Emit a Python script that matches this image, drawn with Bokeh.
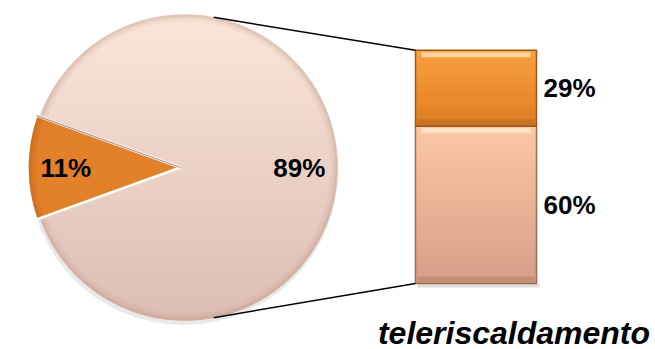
import math
import numpy as np
from bokeh.plotting import figure
from bokeh.models import ColumnDataSource
from bokeh.embed import file_html
from bokeh.resources import INLINE
from bokeh.core.properties import value

# ---- data ----
pie_labels = ["11%", "89%"]
pie_values = [11, 89]
bar_labels = ["60%", "29%"]
bar_values = [60, 29]
bar_category = "teleriscaldamento"

# ---- layout / style ----
W, H = 655, 349
cx, cy, r = 184, 182, 153          # pie centre & radius (screen units)
explode = 4                         # small slice pulled out
bar_left, bar_right = 415, 536
bar_bottom = 66
bar_scale = 2.62                    # units per percent
conn_angle = math.radians(79)       # where connector lines leave the pie

pie_grad = [("#FBE6DA", "#DCBDB1"), None]
orange_pie = "#E3802A"
bar_grad = [("#FDC8A4", "#D79E88"), ("#FAA241", "#DE7C22")]
bar_edges = ["#9C6A55", "#9A5818"]
FONT = "Liberation Sans"


def mix(c1, c2, t):
    a = [int(c1[i:i + 2], 16) for i in (1, 3, 5)]
    b = [int(c2[i:i + 2], 16) for i in (1, 3, 5)]
    return "#%02x%02x%02x" % tuple(round(a[k] + (b[k] - a[k]) * t) for k in range(3))


p = figure(width=W, height=H, x_range=(0, W), y_range=(0, H),
           output_backend="svg", toolbar_location=None, min_border=0)
p.axis.visible = False
p.grid.visible = False
p.outline_line_color = None
p.background_fill_color = "white"
p.border_fill_color = "white"

total = sum(pie_values)
small_span = 2 * math.pi * pie_values[0] / total
mid_small = math.pi
a0 = mid_small - small_span / 2
a1 = mid_small + small_span / 2
big_start = a1 - 2 * math.pi
big_end = a0

# faint shadow of the pie
p.wedge(x=cx - 1, y=cy - 3, radius=r + 1.5, start_angle=0, end_angle=2 * math.pi,
        fill_color="#D4D4D4", fill_alpha=0.5, line_color=None)

# big slice: base + vertical gradient bands (circle slices)
p.wedge(x=cx, y=cy, radius=r, start_angle=big_start, end_angle=big_end,
        fill_color=mix(*pie_grad[0], 0.5), line_color=None)
nb = 40
edges = np.linspace(cy + r, cy - r, nb + 1)
xs, ys, cols = [], [], []
for i in range(nb):
    yt, yb = edges[i], edges[i + 1]
    yy = np.linspace(yt, yb, 8)
    half = np.sqrt(np.clip(r ** 2 - (yy - cy) ** 2, 0, None))
    px = list(cx + half) + list(cx - half[::-1])
    py = list(yy) + list(yy[::-1])
    xs.append(px)
    ys.append(py)
    cols.append(mix(*pie_grad[0], (i + 0.5) / nb))
p.patches(xs=xs, ys=ys, fill_color=cols, line_color=cols, line_width=0.8)
# bevel rim
for w_, al in [(7, 0.10), (4, 0.14), (2, 0.2)]:
    p.annular_wedge(x=cx, y=cy, inner_radius=r - w_, outer_radius=r,
                    start_angle=big_start + 0.01, end_angle=big_end - 0.01,
                    fill_color="#B89484", fill_alpha=al, line_color=None)

# small (exploded) slice
sx = cx + explode * math.cos(mid_small)
sy = cy + explode * math.sin(mid_small)
p.wedge(x=sx, y=sy, radius=r, start_angle=a0, end_angle=a1,
        fill_color=orange_pie, line_color="white", line_width=2.5)
for w_, al in [(8, 0.15), (4, 0.25)]:
    p.annular_wedge(x=sx, y=sy, inner_radius=r - w_, outer_radius=r - 1,
                    start_angle=a0 + 0.01, end_angle=a1 - 0.01,
                    fill_color="#A85812", fill_alpha=al, line_color=None)
# thin gray edge on the upper side of the small slice
p.segment(x0=[sx], y0=[sy], x1=[sx + r * math.cos(a0)], y1=[sy + r * math.sin(a0)],
          line_color="#A89890", line_width=1.2)

# pie labels
lab_r = 0.75 * r
mids = [mid_small, 0.0]
centers = [(sx, sy), (cx, cy)]
p.text(x=[c[0] + lab_r * math.cos(m) for c, m in zip(centers, mids)],
       y=[c[1] + lab_r * math.sin(m) for c, m in zip(centers, mids)],
       text=pie_labels, text_font=value(FONT), text_font_style="bold",
       text_font_size="26px", text_align="center", text_baseline="middle",
       text_color="black")

# stacked bar
bottoms, tops = [], []
acc = bar_bottom
for v in bar_values:
    bottoms.append(acc)
    acc += v * bar_scale
    tops.append(acc)
src = ColumnDataSource(dict(left=[bar_left] * len(bar_values),
                            right=[bar_right] * len(bar_values),
                            bottom=bottoms, top=tops,
                            fill=[mix(*g, 0.5) for g in bar_grad], edge=bar_edges))
# shadow
p.quad(left=bar_left + 2, right=bar_right + 3, bottom=bar_bottom - 4, top=bar_bottom,
       fill_color="#C8C8C8", fill_alpha=0.6, line_color=None)
p.quad(left="left", right="right", bottom="bottom", top="top", source=src,
       fill_color="fill", line_color=None)
# vertical gradient inside each segment
gl, gr, gb, gt, gc = [], [], [], [], []
for b, t, g in zip(bottoms, tops, bar_grad):
    n = 24
    e = np.linspace(t, b, n + 1)
    for i in range(n):
        gl.append(bar_left)
        gr.append(bar_right)
        gt.append(e[i])
        gb.append(e[i + 1])
        gc.append(mix(*g, (i + 0.5) / n))
p.quad(left=gl, right=gr, bottom=gb, top=gt, fill_color=gc, line_color=gc, line_width=0.5)
# bevel highlights / shadows
p.quad(left=[bar_left + 6] * len(bar_values), right=[bar_right - 6] * len(bar_values),
       bottom=[t - 7 for t in tops], top=[t - 2 for t in tops],
       fill_color="#FFF4DC", fill_alpha=0.6, line_color=None)
p.quad(left=[bar_left + 2] * len(bar_values), right=[bar_right - 2] * len(bar_values),
       bottom=[b + 1 for b in bottoms], top=[b + 7 for b in bottoms],
       fill_color="#7A4A2A", fill_alpha=0.2, line_color=None)
p.quad(left="left", right="right", bottom="bottom", top="top", source=src,
       fill_color=None, line_color="edge", line_width=1.5)

# bar labels
p.text(x=[bar_right + 7] * len(bar_values),
       y=[(b + t) / 2 for b, t in zip(bottoms, tops)],
       text=bar_labels, text_font=value(FONT), text_font_style="bold",
       text_font_size="26px", text_align="left", text_baseline="middle",
       text_color="black")

# category label
p.text(x=[(bar_left + bar_right) / 2 + 38], y=[17], text=[bar_category],
       text_font=value(FONT), text_font_style="bold italic",
       text_font_size="32px", text_align="center", text_baseline="middle",
       text_color="black")

# connector lines
top_pt = (cx + r * math.cos(conn_angle), cy + r * math.sin(conn_angle))
bot_pt = (cx + r * math.cos(-conn_angle), cy + r * math.sin(-conn_angle))
p.segment(x0=[top_pt[0], bot_pt[0]], y0=[top_pt[1], bot_pt[1]],
          x1=[bar_left, bar_left], y1=[tops[-1], bottoms[0]],
          line_color="black", line_width=1.5)

open("out.html", "w").write(file_html(p, INLINE))
